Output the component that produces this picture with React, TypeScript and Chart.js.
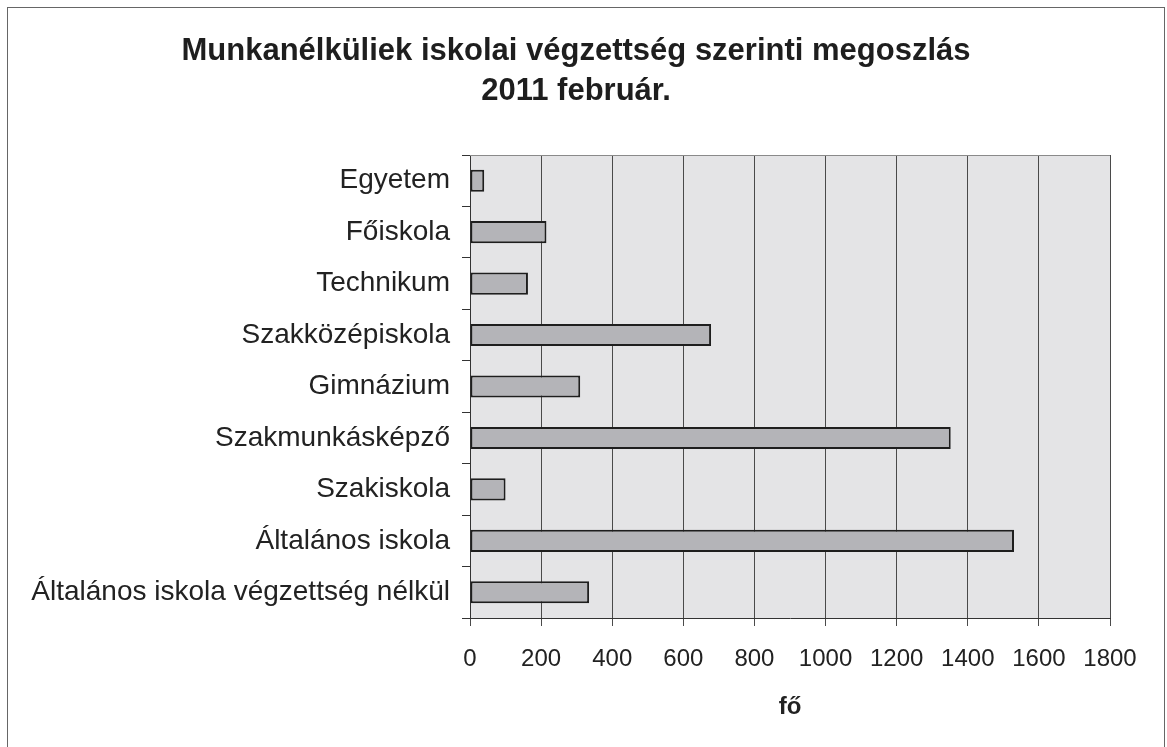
import { useEffect, useRef } from 'react';
import { Chart, registerables } from 'chart.js';

Chart.register(...registerables);

const categories = [
  'Egyetem',
  'Főiskola',
  'Technikum',
  'Szakközépiskola',
  'Gimnázium',
  'Szakmunkásképző',
  'Szakiskola',
  'Általános iskola',
  'Általános iskola végzettség nélkül',
];
const values = [40, 215, 163, 678, 310, 1352, 100, 1530, 335];
const xMin = 0;
const xMax = 1800;
const xStep = 200;
const titleLines = ['Munkanélküliek iskolai végzettség szerinti megoszlás', '2011 február.'];
const xAxisTitle = 'fő';

const W = 1167;
const H = 747;
const FONT = "'Liberation Sans', Arial, sans-serif";

const plotBg = {
  id: 'plotBg',
  afterLayout(chart: any) {
    // widen the label clip area of the category axis so long labels are not cut
    const y = chart.scales.y;
    if (y) y.left = 10;
  },
  beforeDraw(chart: any) {
    const { ctx, chartArea } = chart;
    if (!chartArea) return;
    ctx.save();
    ctx.fillStyle = '#e4e4e6';
    ctx.fillRect(chartArea.left, chartArea.top, chartArea.right - chartArea.left, chartArea.bottom - chartArea.top);
    ctx.restore();
  },
  afterDraw(chart: any) {
    const { ctx, chartArea } = chart;
    if (!chartArea) return;
    ctx.save();
    ctx.strokeStyle = '#8a8a8a';
    ctx.lineWidth = 1;
    ctx.beginPath();
    ctx.moveTo(chartArea.left, chartArea.top + 0.5);
    ctx.lineTo(chartArea.right, chartArea.top + 0.5);
    ctx.stroke();
    ctx.restore();
  },
};

export default function App() {
  const ref = useRef<HTMLCanvasElement | null>(null);

  useEffect(() => {
    if (!ref.current) return;
    const chart = new Chart(ref.current, {
      type: 'bar',
      data: {
        labels: categories,
        datasets: [
          {
            data: values,
            backgroundColor: '#b4b4b8',
            borderColor: '#1e1e1e',
            borderWidth: 2,
            borderSkipped: false,
            barPercentage: 0.43,
            categoryPercentage: 1,
          },
        ],
      },
      plugins: [plotBg],
      options: {
        indexAxis: 'y',
        animation: false,
        responsive: false,
        devicePixelRatio: 1,
        layout: { padding: { left: 42, right: 57, top: 0, bottom: 0 } },
        plugins: {
          legend: { display: false },
          tooltip: { enabled: false },
          title: {
            display: true,
            text: titleLines,
            color: '#1e1e1e',
            font: { family: FONT, size: 31, weight: 'bold', lineHeight: 40 / 31 },
            padding: { top: 31, bottom: 44 },
          },
        },
        scales: {
          x: {
            type: 'linear',
            min: xMin,
            max: xMax,
            ticks: {
              stepSize: xStep,
              color: '#222',
              font: { family: FONT, size: 24 },
              padding: 19,
              maxRotation: 0,
              autoSkip: false,
              callback: (v: any) => String(v),
            },
            grid: { color: '#4a4a4a', lineWidth: 1, tickLength: 8, drawTicks: true },
            border: { color: '#333', width: 1 },
            title: {
              display: true,
              text: xAxisTitle,
              color: '#222',
              font: { family: FONT, size: 24, weight: 'bold' },
              padding: { top: 0, bottom: 25 },
            },
            afterFit: (s: any) => {
              s.height = 129;
            },
          },
          y: {
            type: 'category',
            ticks: {
              color: '#222',
              font: { family: FONT, size: 28 },
              padding: 12,
              autoSkip: false,
            },
            grid: { offset: true, drawOnChartArea: false, tickLength: 8, color: '#333' },
            border: { color: '#333', width: 1 },
            afterFit: (s: any) => {
              s.width = 428;
            },
          },
        },
      },
    } as any);
    return () => chart.destroy();
  }, []);

  return (
    <div style={{ position: 'fixed', left: 0, top: 0, width: W, height: H, background: '#fff' }}>
      <div
        style={{
          position: 'absolute',
          left: 7,
          top: 7,
          width: 1156,
          height: 740,
          borderTop: '1px solid #666',
          borderLeft: '1px solid #666',
          borderRight: '1px solid #666',
        }}
      />
      <canvas
        ref={ref}
        width={W}
        height={H}
        style={{ position: 'absolute', left: 0, top: 0, width: W, height: H }}
      />
    </div>
  );
}
